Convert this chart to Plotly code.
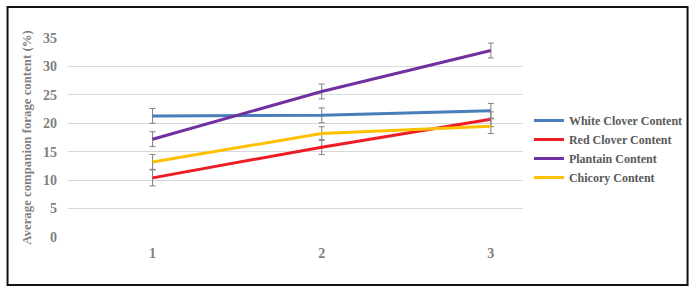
import plotly.graph_objects as go

x_vals = [1, 2, 3]
tick_labels = ["1", "2", "3"]
series_names = ["White Clover Content", "Red Clover Content", "Plantain Content", "Chicory Content"]
white_clover = [21.3, 21.4, 22.2]
red_clover = [10.4, 15.8, 20.7]
plantain = [17.2, 25.6, 32.8]
chicory = [13.2, 18.2, 19.5]
white_err = [1.3, 1.3, 1.3]
red_err = [1.4, 1.3, 1.3]
plantain_err = [1.3, 1.3, 1.3]
chicory_err = [1.3, 1.2, 1.3]

colors = ["#4a7ebb", "#ee1c25", "#7030a0", "#ffc000"]
values = [white_clover, red_clover, plantain, chicory]
errors = [white_err, red_err, plantain_err, chicory_err]

FONT = "Liberation Serif"
fig = go.Figure()
for name, v, e, c in zip(series_names, values, errors, colors):
    fig.add_trace(go.Scatter(
        x=x_vals, y=v, mode="lines", name=name,
        line=dict(color=c, width=3),
        error_y=dict(type="data", array=e, visible=True, color="#808080", thickness=1, width=3),
    ))

W, H = 700, 294
L, R, T, B = 68, 173, 38, 57
pw, ph = W - L - R, H - T - B

def px2paper_x(px):
    return (px - L) / pw

def px2paper_y(py):
    return (H - B - py) / ph

fig.add_shape(type="rect", xref="paper", yref="paper",
              x0=px2paper_x(7), x1=px2paper_x(693), y0=px2paper_y(285), y1=px2paper_y(7),
              line=dict(color="#111111", width=2), fillcolor="rgba(0,0,0,0)", layer="above")

fig.update_layout(
    width=W, height=H,
    margin=dict(l=L, r=R, t=T, b=B, pad=0),
    plot_bgcolor="white", paper_bgcolor="white",
    font=dict(family=FONT, color="#7f7f7f"),
    showlegend=True,
    legend=dict(x=px2paper_x(533), xanchor="left", y=px2paper_y(106), yanchor="top",
                font=dict(family=FONT, size=12, color="#595959", weight="bold"),
                bgcolor="rgba(0,0,0,0)", tracegroupgap=0),
    xaxis=dict(range=[0.5, 3.19], tickvals=x_vals, ticktext=tick_labels,
               showgrid=False, zeroline=False, showline=False, ticks="",
               tickfont=dict(family=FONT, size=14, color="#7f7f7f", weight="bold"),
               ticklabelstandoff=6),
    yaxis=dict(range=[0, 35], dtick=5, showgrid=True, gridcolor="#d9d9d9", gridwidth=1,
               zeroline=False, showline=False, ticks="",
               tickfont=dict(family=FONT, size=14, color="#7f7f7f", weight="bold"),
               ticklabelstandoff=10,
               title=dict(text="Average companion forage content (%)", standoff=8,
                          font=dict(family=FONT, size=12.8, color="#7f7f7f", weight="bold"))),
)
fig.write_html("out.html")
